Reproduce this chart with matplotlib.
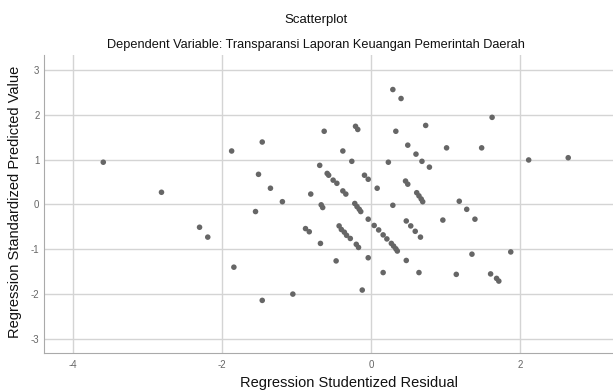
import matplotlib.pyplot as plt

plt.rcParams['font.family'] = ['Liberation Sans', 'DejaVu Sans']
plt.rcParams['axes.unicode_minus'] = False

# residual (x) dan predicted value (y)
resid = [
    -3.59, -2.81, -1.87, -2.30, -2.19, -1.84,
    0.29, 0.40, -0.63, -0.21, -0.18, 0.33, 0.73, -1.46, -0.38, 0.49,
    0.60, -0.26, 0.23, 0.68, 0.78, -1.51, -0.69, -0.59, -0.57, -0.51,
    -0.46, -0.09, -0.04, -1.35, -0.38, -0.34, 0.08, 0.46, 0.49, -0.81,
    0.61, 0.64, 0.67, 0.69, -1.19, 0.29, -0.67, -0.65, -0.22, -0.19,
    -0.16, -0.14, -1.55,
    -0.04, 0.04, 0.10, 0.16, 0.21, 0.27, 0.30, 0.33, 0.35,
    0.47, 0.53, 0.59, 0.66, -0.43, -0.40, -0.36, -0.33, -0.28,
    -0.88, -0.83, -0.68, -0.20, -0.17, -0.04, -0.47, 0.16, 0.47, 0.64,
    -0.12, -1.05, -1.46,
    1.62, 1.01, 1.48, 2.11, 2.64, 1.18, 1.28, 0.96, 1.39, 1.35, 1.87,
    1.14, 1.60, 1.68, 1.71,
]
pred = [
    0.94, 0.27, 1.19, -0.51, -0.73, -1.40,
    2.56, 2.36, 1.63, 1.74, 1.67, 1.63, 1.76, 1.39, 1.19, 1.32,
    1.12, 0.96, 0.94, 0.96, 0.83, 0.67, 0.87, 0.69, 0.65, 0.54,
    0.47, 0.65, 0.56, 0.36, 0.30, 0.23, 0.36, 0.52, 0.45, 0.23,
    0.26, 0.19, 0.12, 0.06, 0.06, -0.02, -0.01, -0.07, 0.02, -0.05,
    -0.11, -0.16, -0.16,
    -0.33, -0.47, -0.57, -0.68, -0.77, -0.87, -0.93, -0.99, -1.04,
    -0.37, -0.48, -0.60, -0.73, -0.48, -0.56, -0.62, -0.69, -0.76,
    -0.54, -0.61, -0.87, -0.89, -0.96, -1.19, -1.26, -1.52, -1.25, -1.52,
    -1.91, -2.00, -2.14,
    1.94, 1.26, 1.26, 0.99, 1.04, 0.07, -0.11, -0.35, -0.33, -1.11, -1.06,
    -1.56, -1.55, -1.65, -1.71,
]
xticks = [-4, -2, 0, 2]
yticks = [-3, -2, -1, 0, 1, 2, 3]

fig = plt.figure(figsize=(6.13, 3.92), dpi=100)
ax = fig.add_axes([0.0723, 0.0987, 0.9277, 0.761])

ax.scatter(resid, pred, s=16, color='#666666', edgecolors='none', zorder=3)

ax.set_xlim(-4.38, 3.24)
ax.set_ylim(-3.32, 3.33)
ax.set_xticks(xticks)
ax.set_yticks(yticks)
ax.grid(True, color='#d4d4d4', linewidth=1.0)
ax.set_axisbelow(True)
ax.tick_params(length=0, labelsize=7, labelcolor='#666666')
ax.tick_params(axis='x', pad=5)
ax.tick_params(axis='y', pad=3.5)
for side in ['top', 'right']:
    ax.spines[side].set_visible(False)
for side in ['left', 'bottom']:
    ax.spines[side].set_color('#aaaaaa')

# label sumbu, posisi dari gambar (sumbu aslinya terpotong di kanan)
fig.text(349 / 613, 1 - 383 / 392, 'Regression Studentized Residual',
         ha='center', va='center', fontsize=10.5, color='#111111')
fig.text(15 / 613, 1 - 202 / 392, 'Regression Standardized Predicted Value',
         ha='center', va='center', rotation=90, fontsize=10.5, color='#111111')

fig.text(316 / 613, 1 - 20 / 392, 'Scatterplot', ha='center', va='center',
         fontsize=9.5, color='#111111')
fig.text(316 / 613, 1 - 45 / 392,
         'Dependent Variable: Transparansi Laporan Keuangan Pemerintah Daerah',
         ha='center', va='center', fontsize=9.2, color='#111111')

fig.savefig('out.png', dpi=100)
